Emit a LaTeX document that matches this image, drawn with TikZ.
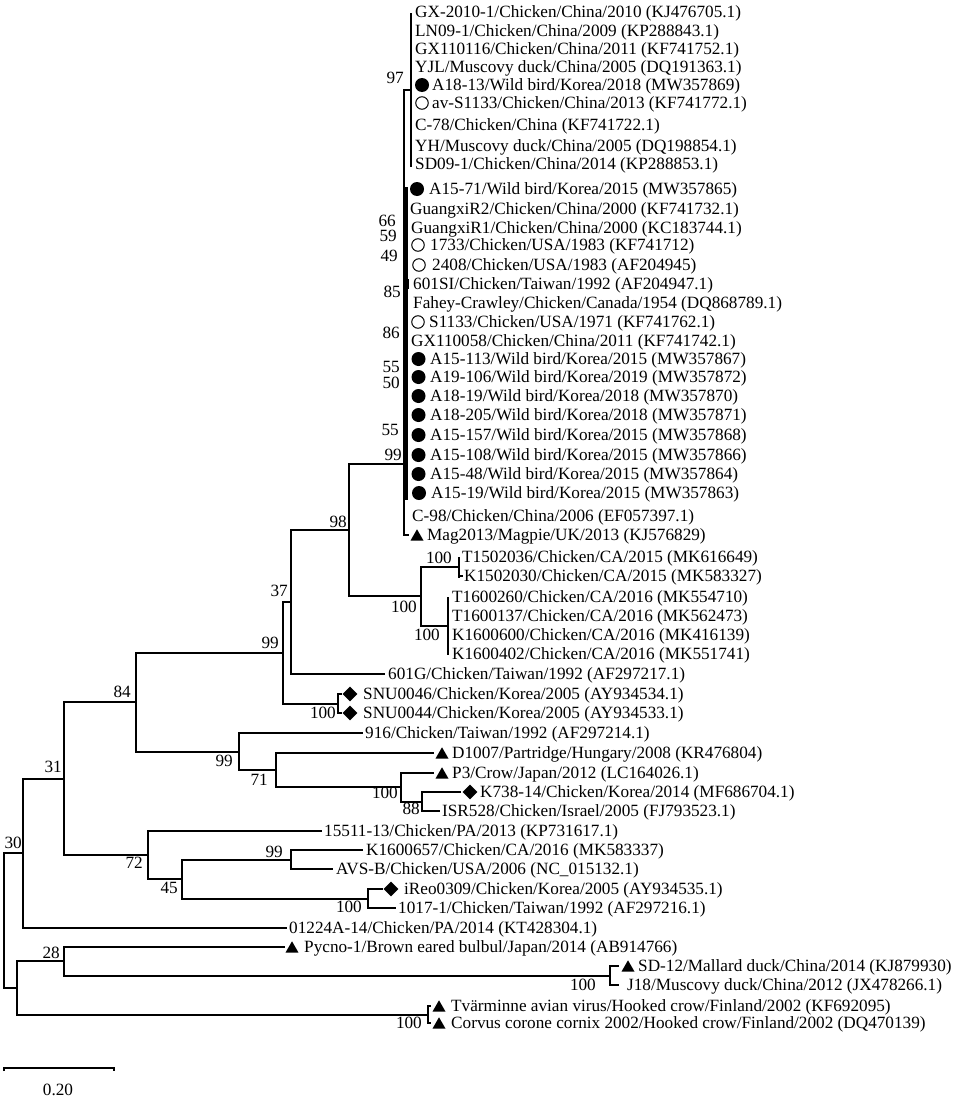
\documentclass[tikz,border=0pt]{standalone}
\usepackage{fontspec}
\setmainfont{Liberation Serif}
\usetikzlibrary{shapes.geometric}
\begin{document}
\begin{tikzpicture}[x=1pt,y=-1pt,
 br/.style={line width=2pt},
 tip/.style={anchor=west,inner sep=0pt,text height=11.7pt,text depth=0pt,font=\fontsize{17.2}{20}\selectfont},
 bs/.style={anchor=east,inner sep=0pt,text height=11.7pt,text depth=0pt,font=\fontsize{17.2}{20}\selectfont},
 fc/.style={circle,fill=black,inner sep=0pt,minimum size=14pt},
 oc/.style={circle,draw=black,line width=1pt,inner sep=0pt,minimum size=12.5pt},
 tr/.style={regular polygon,regular polygon sides=3,fill=black,inner sep=0pt,minimum size=15pt,yshift=-1.8pt},
 dm/.style={diamond,fill=black,inner sep=0pt,minimum size=15pt}]
\useasboundingbox (0,0) rectangle (957,1100);
% internal nodes and branch ends
\coordinate (root) at (4,920.5);
\coordinate (n30) at (23,853);
\coordinate (nX) at (17,988);
\coordinate (n31) at (64,778.5);
\coordinate (e01224) at (287,928);
\coordinate (n84) at (136,702);
\coordinate (n72) at (148,855);
\coordinate (n99a) at (283,652.75);
\coordinate (n99b) at (239,751.5);
\coordinate (n37) at (291,602);
\coordinate (nSNU) at (338,703.5);
\coordinate (n98) at (349,530);
\coordinate (e601G) at (385,674);
\coordinate (nBig) at (404,464);
\coordinate (nCA) at (421,596);
\coordinate (nCAa) at (459,566.5);
\coordinate (nCAb) at (448,625.5);
\coordinate (e916) at (363,733);
\coordinate (n71) at (276,770);
\coordinate (eD1007) at (434,753);
\coordinate (n100c) at (401,787);
\coordinate (eP3) at (434,773);
\coordinate (n88) at (422,801.5);
\coordinate (eK738) at (461,792);
\coordinate (eISR) at (440,811);
\coordinate (e15511) at (322,831);
\coordinate (n45) at (182,879);
\coordinate (n99d) at (291,859.5);
\coordinate (n100e) at (368,898.5);
\coordinate (eK1600657) at (363,850);
\coordinate (eAVSB) at (333,869);
\coordinate (eiReo) at (383,889);
\coordinate (e1017) at (396,908);
\coordinate (n28) at (64,961);
\coordinate (nTv) at (428,1014.5);
\coordinate (ePycno) at (285,947);
\coordinate (nSD) at (610,975.5);
\coordinate (eSD12) at (619,966);
\coordinate (eJ18) at (619,985);
\coordinate (eSNU1) at (342,694);
\coordinate (eSNU2) at (342,713);
\coordinate (eTv1) at (431,1006);
\coordinate (eTv2) at (431,1023);
% branches
\foreach \a/\b in {root/n30,root/nX,n30/n31,n30/e01224,n31/n84,n31/n72,n84/n99a,n84/n99b,
 n99a/n37,n99a/nSNU,n37/n98,n37/e601G,n98/nBig,n98/nCA,nCA/nCAa,nCA/nCAb,nSNU/eSNU1,nSNU/eSNU2,
 n99b/e916,n99b/n71,n71/eD1007,n71/n100c,n100c/eP3,n100c/n88,n88/eK738,n88/eISR,
 n72/e15511,n72/n45,n45/n99d,n45/n100e,n99d/eK1600657,n99d/eAVSB,n100e/eiReo,n100e/e1017,
 nX/n28,nX/nTv,n28/ePycno,n28/nSD,nSD/eSD12,nSD/eJ18,nTv/eTv1,nTv/eTv2}
 {\draw[br] (\a) |- (\b);}
\draw[br] (459,557) -- (459,578);
\draw[br] (459,576) -- (463,576);
\draw[br] (448,597) -- (448,655);
% top clade
\draw[br] (404,90) -- (404,536);
\draw[line width=4.5pt] (405.5,187) -- (405.5,500);
\draw[br] (403,90) -- (411,90);
\draw[br] (411,13) -- (411,167);
\draw[br] (404,535) -- (409,535);
\draw[line width=1.5pt] (408.5,279) -- (408.5,289);
% leaves
\node[tip] (l1) at (415,12) {GX-2010-1/Chicken/China/2010 (KJ476705.1)};
\node[tip] (l2) at (415,31) {LN09-1/Chicken/China/2009 (KP288843.1)};
\node[tip] (l3) at (415,49) {GX110116/Chicken/China/2011 (KF741752.1)};
\node[tip] (l4) at (415,67) {YJL/Muscovy duck/China/2005 (DQ191363.1)};
\node[fc] (s5) at (422,85) {};
\node[tip] (l5) at (432,85) {A18-13/Wild bird/Korea/2018 (MW357869)};
\node[oc] (s6) at (422,103) {};
\node[tip] (l6) at (432,103) {av-S1133/Chicken/China/2013 (KF741772.1)};
\node[tip] (l7) at (415,125) {C-78/Chicken/China (KF741722.1)};
\node[tip] (l8) at (415,146) {YH/Muscovy duck/China/2005 (DQ198854.1)};
\node[tip] (l9) at (415,164) {SD09-1/Chicken/China/2014 (KP288853.1)};
\node[fc] (s10) at (417,189) {};
\node[tip] (l10) at (429,189) {A15-71/Wild bird/Korea/2015 (MW357865)};
\node[tip] (l11) at (410,209) {GuangxiR2/Chicken/China/2000 (KF741732.1)};
\node[tip] (l12) at (411,228) {GuangxiR1/Chicken/China/2000 (KC183744.1)};
\node[oc] (s13) at (418,245) {};
\node[tip] (l13) at (430,245) {1733/Chicken/USA/1983 (KF741712)};
\node[oc] (s14) at (419,265) {};
\node[tip] (l14) at (432,265) {2408/Chicken/USA/1983 (AF204945)};
\node[tip] (l15) at (413,284) {601SI/Chicken/Taiwan/1992 (AF204947.1)};
\node[tip] (l16) at (413,303) {Fahey-Crawley/Chicken/Canada/1954 (DQ868789.1)};
\node[oc] (s17) at (418,322) {};
\node[tip] (l17) at (429,322) {S1133/Chicken/USA/1971 (KF741762.1)};
\node[tip] (l18) at (411,341) {GX110058/Chicken/China/2011 (KF741742.1)};
\node[fc] (s19) at (418.5,359) {};
\node[tip] (l19) at (430,359) {A15-113/Wild bird/Korea/2015 (MW357867)};
\node[fc] (s20) at (418.5,377) {};
\node[tip] (l20) at (430,377) {A19-106/Wild bird/Korea/2019 (MW357872)};
\node[fc] (s21) at (418.5,396) {};
\node[tip] (l21) at (430,396) {A18-19/Wild bird/Korea/2018 (MW357870)};
\node[fc] (s22) at (418.5,415) {};
\node[tip] (l22) at (430,415) {A18-205/Wild bird/Korea/2018 (MW357871)};
\node[fc] (s23) at (418.5,435) {};
\node[tip] (l23) at (430,435) {A15-157/Wild bird/Korea/2015 (MW357868)};
\node[fc] (s24) at (418.5,455) {};
\node[tip] (l24) at (430,455) {A15-108/Wild bird/Korea/2015 (MW357866)};
\node[fc] (s25) at (418.5,474) {};
\node[tip] (l25) at (430,474) {A15-48/Wild bird/Korea/2015 (MW357864)};
\node[fc] (s26) at (419,493) {};
\node[tip] (l26) at (431,493) {A15-19/Wild bird/Korea/2015 (MW357863)};
\node[tip] (l27) at (412,516) {C-98/Chicken/China/2006 (EF057397.1)};
\node[tr] (s28) at (417,535) {};
\node[tip] (l28) at (427,535) {Mag2013/Magpie/UK/2013 (KJ576829)};
\node[tip] (l29) at (462,557) {T1502036/Chicken/CA/2015 (MK616649)};
\node[tip] (l30) at (464,576) {K1502030/Chicken/CA/2015 (MK583327)};
\node[tip] (l31) at (452,597) {T1600260/Chicken/CA/2016 (MK554710)};
\node[tip] (l32) at (452,616) {T1600137/Chicken/CA/2016 (MK562473)};
\node[tip] (l33) at (452,635) {K1600600/Chicken/CA/2016 (MK416139)};
\node[tip] (l34) at (452,654) {K1600402/Chicken/CA/2016 (MK551741)};
\node[tip] (l35) at (388,674) {601G/Chicken/Taiwan/1992 (AF297217.1)};
\node[dm] (s36) at (350,694) {};
\node[tip] (l36) at (363,694) {SNU0046/Chicken/Korea/2005 (AY934534.1)};
\node[dm] (s37) at (350,713) {};
\node[tip] (l37) at (363,713) {SNU0044/Chicken/Korea/2005 (AY934533.1)};
\node[tip] (l38) at (365,733) {916/Chicken/Taiwan/1992 (AF297214.1)};
\node[tr] (s39) at (442,753) {};
\node[tip] (l39) at (452,753) {D1007/Partridge/Hungary/2008 (KR476804)};
\node[tr] (s40) at (442,773) {};
\node[tip] (l40) at (452,773) {P3/Crow/Japan/2012 (LC164026.1)};
\node[dm] (s41) at (470,792) {};
\node[tip] (l41) at (480,792) {K738-14/Chicken/Korea/2014 (MF686704.1)};
\node[tip] (l42) at (442,811) {ISR528/Chicken/Israel/2005 (FJ793523.1)};
\node[tip] (l43) at (324,831) {15511-13/Chicken/PA/2013 (KP731617.1)};
\node[tip] (l44) at (366,850) {K1600657/Chicken/CA/2016 (MK583337)};
\node[tip] (l45) at (336,869) {AVS-B/Chicken/USA/2006 (NC\_015132.1)};
\node[dm] (s46) at (391,889) {};
\node[tip] (l46) at (404,889) {iReo0309/Chicken/Korea/2005 (AY934535.1)};
\node[tip] (l47) at (398,908) {1017-1/Chicken/Taiwan/1992 (AF297216.1)};
\node[tip] (l48) at (289,928) {01224A-14/Chicken/PA/2014 (KT428304.1)};
\node[tr] (s49) at (292,947) {};
\node[tip] (l49) at (304,947) {Pycno-1/Brown eared bulbul/Japan/2014 (AB914766)};
\node[tr] (s50) at (628,966) {};
\node[tip] (l50) at (638,966) {SD-12/Mallard duck/China/2014 (KJ879930)};
\node[tip] (l51) at (627,985) {J18/Muscovy duck/China/2012 (JX478266.1)};
\node[tr] (s52) at (439,1006) {};
\node[tip] (l52) at (451,1006) {Tvärminne avian virus/Hooked crow/Finland/2002 (KF692095)};
\node[tr] (s53) at (439,1023) {};
\node[tip] (l53) at (451,1023) {Corvus corone cornix 2002/Hooked crow/Finland/2002 (DQ470139)};
% bootstrap values
\node[bs] (b97) at (404,78) {97};
\node[bs] (b66) at (396,221) {66};
\node[bs] (b59) at (397,236) {59};
\node[bs] (b49) at (398,256) {49};
\node[bs] (b85) at (401,292) {85};
\node[bs] (b86) at (400,333) {86};
\node[bs] (b55a) at (400,367) {55};
\node[bs] (b50) at (400,383) {50};
\node[bs] (b55b) at (399,430) {55};
\node[bs] (b99big) at (402,455) {99};
\node[bs] (b98) at (347,522) {98};
\node[bs] (b100a) at (452,558) {100};
\node[bs] (b100ca) at (417,607) {100};
\node[bs] (b100b) at (440,635) {100};
\node[bs] (b37) at (288,591) {37};
\node[bs] (b99a) at (279,643) {99};
\node[bs] (b84) at (131,692) {84};
\node[bs] (b100snu) at (336,713) {100};
\node[bs] (b99b) at (233,761) {99};
\node[bs] (b71) at (268,780) {71};
\node[bs] (b31) at (62,767) {31};
\node[bs] (b100c) at (398,793) {100};
\node[bs] (b88) at (420,809) {88};
\node[bs] (b30) at (22,843) {30};
\node[bs] (b99d) at (283,852) {99};
\node[bs] (b72) at (143,863) {72};
\node[bs] (b45) at (178,888) {45};
\node[bs] (b100e) at (362,907) {100};
\node[bs] (b28) at (60,953) {28};
\node[bs] (b100sd) at (596,985) {100};
\node[bs] (b100tv) at (422,1023) {100};
% scale bar
\coordinate (sb1) at (4,1068);
\coordinate (sb2) at (114,1068);
\draw[br] ([yshift=-3pt]sb1) -- (sb1) -- (sb2) -- ([yshift=-3pt]sb2);
\node[tip,anchor=center] (sbl) at (58,1090) {0.20};
\end{tikzpicture}
\end{document}
